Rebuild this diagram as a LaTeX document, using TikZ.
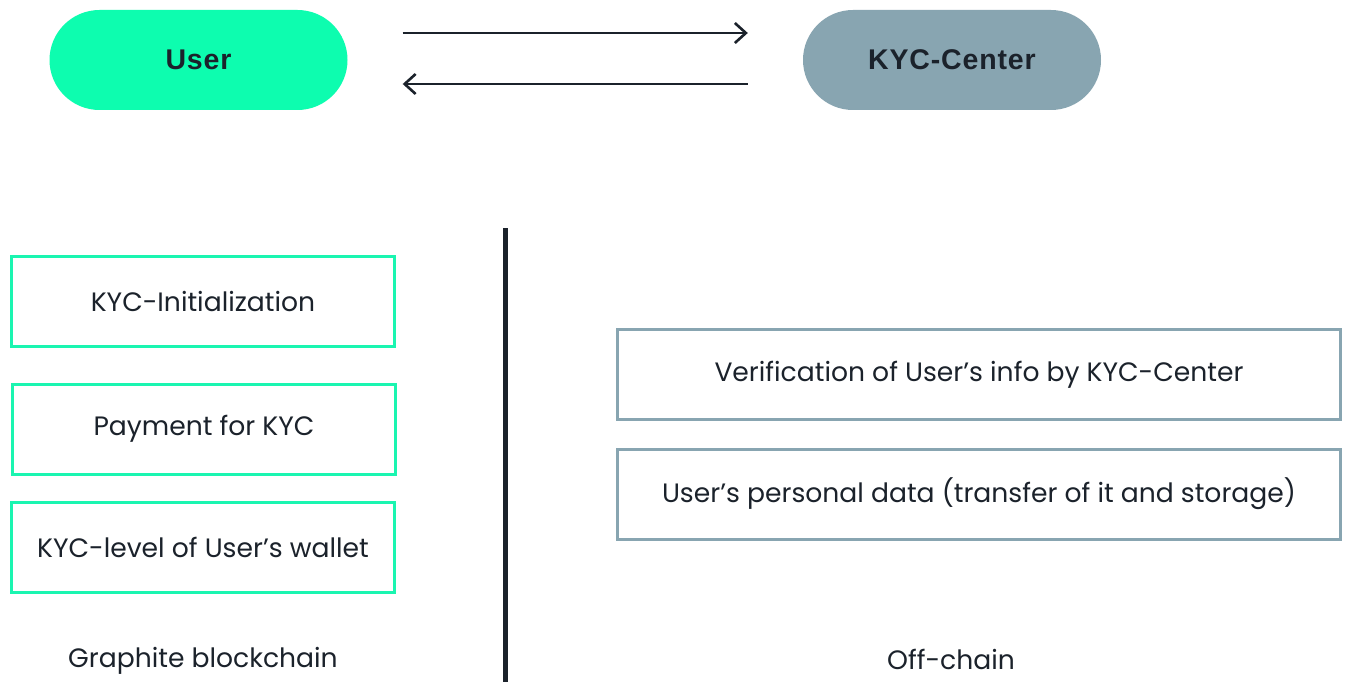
\documentclass[tikz,border=0pt]{standalone}
\usepackage{fontspec}
\setmainfont{Poppins}
\newfontfamily\pillfont[LetterSpace=3]{Liberation Sans}
\usetikzlibrary{arrows.meta}
\definecolor{mint}{HTML}{0DFDAF}
\definecolor{mintline}{HTML}{1AF5B0}
\definecolor{slate}{HTML}{88A5B1}
\definecolor{ink}{HTML}{1B222B}
\tikzset{
  pill/.style={rounded corners=50pt,minimum width=298pt,minimum height=100pt,inner sep=0pt,
    text=ink,font=\pillfont\bfseries\fontsize{28.5}{30}\selectfont},
  chainbox/.style={draw=mintline,line width=3pt,minimum width=383pt,minimum height=90pt,inner sep=0pt,
    text=ink,font=\fontsize{26.6}{30}\selectfont},
  offbox/.style={draw=slate,line width=3pt,minimum width=723pt,minimum height=90pt,inner sep=0pt,
    text=ink,font=\fontsize{26.6}{30}\selectfont},
  side/.style={text=ink,font=\fontsize{26.6}{30}\selectfont},
  arr/.style={draw=ink,line width=2.6pt,-{Straight Barb[length=11pt,width=20pt,line width=2.6pt]}}
}

\begin{document}
\begin{tikzpicture}[x=1pt,y=-1pt]
\useasboundingbox (0,0) rectangle (1350,682);
\fill[white] (0,0) rectangle (1350,682);
% top actors
\node[pill,fill=mint] (user) at (198.5,60) {User};
\node[pill,fill=slate] (kyc) at (952,60) {KYC-Center};
\draw[arr] ([shift={(55,-27)}]user.east) -- ([shift={(-55,-27)}]kyc.west);
\draw[arr] ([shift={(-55,24)}]kyc.west) -- ([shift={(55,24)}]user.east);
% divider
\draw[ink,line width=5pt] (505,228) -- (505,682);
% on-chain side
\node[chainbox] (init) at (203,301.5) {KYC-Initialization};
\node[chainbox] (pay) at (204,429) {Payment for KYC};
\node[chainbox] (level) at (203,547) {KYC-level of User’s wallet};
\node[side] (graphite) at (203,661) {Graphite blockchain};
% off-chain side
\node[offbox] (verify) at (979,374.5) {Verification of User’s info by KYC-Center};
\node[offbox] (personal) at (979,494) {User’s personal data (transfer of it and storage)};
\node[side] (offchain) at (951,659) {Off-chain};
\end{tikzpicture}
\end{document}
